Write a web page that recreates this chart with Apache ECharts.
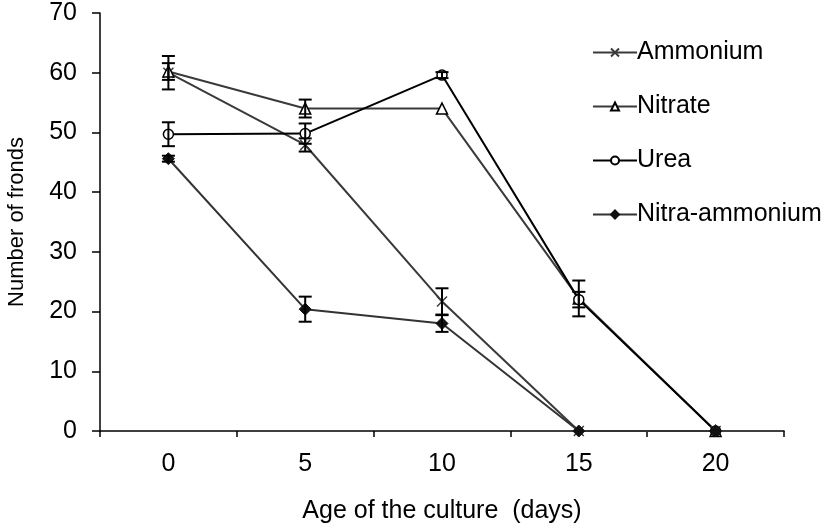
<!DOCTYPE html>
<html>
<head>
<meta charset="utf-8">
<script src="https://cdn.jsdelivr.net/npm/echarts@6/dist/echarts.min.js"></script>
<style>html,body{margin:0;padding:0;background:#fff;}#c{width:829px;height:529px;}</style>
</head>
<body>
<div id="c"></div>
<script>
const days = ['0', '5', '10', '15', '20'];
const ammonium = [60.0, 47.9, 21.7, 0, 0];
const ammoniumErr = [2.8, 1.1, 2.2, 0, 0];
const nitrate = [60.2, 54.0, 54.0, 22.2, 0];
const nitrateErr = [1.4, 1.5, 0, 3.0, 0];
const urea = [49.7, 49.8, 59.6, 22.0, 0];
const ureaErr = [2.0, 1.7, 0.5, 1.3, 0];
const nitraAmm = [45.6, 20.4, 18.0, 0, 0];
const nitraAmmErr = [0.5, 2.1, 1.4, 0, 0];
const yTicks = [0, 10, 20, 30, 40, 50, 60, 70];

const FONT = 'Liberation Sans';
const crossPath = 'path://M0,0L10,10M10,0L0,10';

function errData(vals, errs) {
  const out = [];
  vals.forEach((v, i) => { if (errs[i] > 0) out.push([i, v - errs[i], v + errs[i]]); });
  return out;
}
const allErr = [].concat(
  errData(ammonium, ammoniumErr),
  errData(nitrate, nitrateErr),
  errData(urea, ureaErr),
  errData(nitraAmm, nitraAmmErr)
);

function renderErr(params, api) {
  const x = api.value(0);
  const lo = api.coord([x, api.value(1)]);
  const hi = api.coord([x, api.value(2)]);
  const w = 6.5;
  const st = { stroke: '#000', lineWidth: 2 };
  return {
    type: 'group',
    children: [
      { type: 'line', shape: { x1: lo[0], y1: lo[1], x2: hi[0], y2: hi[1] }, style: st },
      { type: 'line', shape: { x1: lo[0] - w, y1: lo[1], x2: lo[0] + w, y2: lo[1] }, style: st },
      { type: 'line', shape: { x1: hi[0] - w, y1: hi[1], x2: hi[0] + w, y2: hi[1] }, style: st }
    ]
  };
}

const chart = echarts.init(document.getElementById('c'), null, { renderer: 'canvas' });
chart.setOption({
  animation: false,
  backgroundColor: '#fff',
  textStyle: { fontFamily: FONT },
  grid: { left: 100, right: 45, top: 13, bottom: 98, containLabel: false, outerBoundsMode: 'none' },
  legend: {
    orient: 'vertical',
    left: 587,
    top: 35,
    itemWidth: 44,
    itemHeight: 10,
    itemGap: 29,
    textStyle: { fontFamily: FONT, fontSize: 25, color: '#000', padding: [0, 0, 0, -5] },
    data: ['Ammonium', 'Nitrate', 'Urea', 'Nitra-ammonium']
  },
  xAxis: {
    type: 'category',
    data: days,
    boundaryGap: true,
    name: 'Age of the culture  (days)',
    nameLocation: 'middle',
    nameGap: 68,
    nameTextStyle: { fontFamily: FONT, fontSize: 25, color: '#000' },
    axisLine: { lineStyle: { color: '#000', width: 1.5 } },
    axisTick: { show: true, length: 6, lineStyle: { color: '#000', width: 1.5 } },
    axisLabel: { fontFamily: FONT, fontSize: 25, color: '#000', margin: 21 },
    splitLine: { show: false }
  },
  yAxis: {
    type: 'value',
    min: 0,
    max: 70,
    interval: 10,
    name: 'Number of fronds',
    nameLocation: 'middle',
    nameGap: 72,
    nameTextStyle: { fontFamily: FONT, fontSize: 22, color: '#000' },
    axisLine: { show: true, lineStyle: { color: '#000', width: 1.5 } },
    axisTick: { show: true, length: 8, lineStyle: { color: '#000', width: 1.5 } },
    axisLabel: { fontFamily: FONT, fontSize: 25, color: '#000', margin: 23,
      formatter: v => (yTicks.indexOf(v) >= 0 ? String(v) : '') },
    splitLine: { show: false }
  },
  series: [
    {
      name: 'Ammonium', type: 'line', data: ammonium,
      symbol: crossPath, symbolSize: 10,
      lineStyle: { color: '#3a3a3a', width: 2 },
      itemStyle: { color: '#3a3a3a', borderColor: '#3a3a3a', borderWidth: 1.5 },
      z: 3
    },
    {
      name: 'Nitrate', type: 'line', data: nitrate,
      symbol: 'triangle', symbolSize: 11,
      lineStyle: { color: '#3a3a3a', width: 2 },
      itemStyle: { color: '#fff', borderColor: '#000', borderWidth: 1.5 },
      z: 3
    },
    {
      name: 'Urea', type: 'line', data: urea,
      symbol: 'circle', symbolSize: 10,
      lineStyle: { color: '#000', width: 2 },
      itemStyle: { color: '#fff', borderColor: '#000', borderWidth: 1.5 },
      z: 3
    },
    {
      name: 'Nitra-ammonium', type: 'line', data: nitraAmm,
      symbol: 'diamond', symbolSize: 12,
      lineStyle: { color: '#333', width: 2 },
      itemStyle: { color: '#111', borderColor: '#111', borderWidth: 1 },
      z: 3
    },
    {
      name: 'errors', type: 'custom', data: allErr,
      renderItem: renderErr, z: 4, silent: true
    }
  ]
});
</script>
</body>
</html>
